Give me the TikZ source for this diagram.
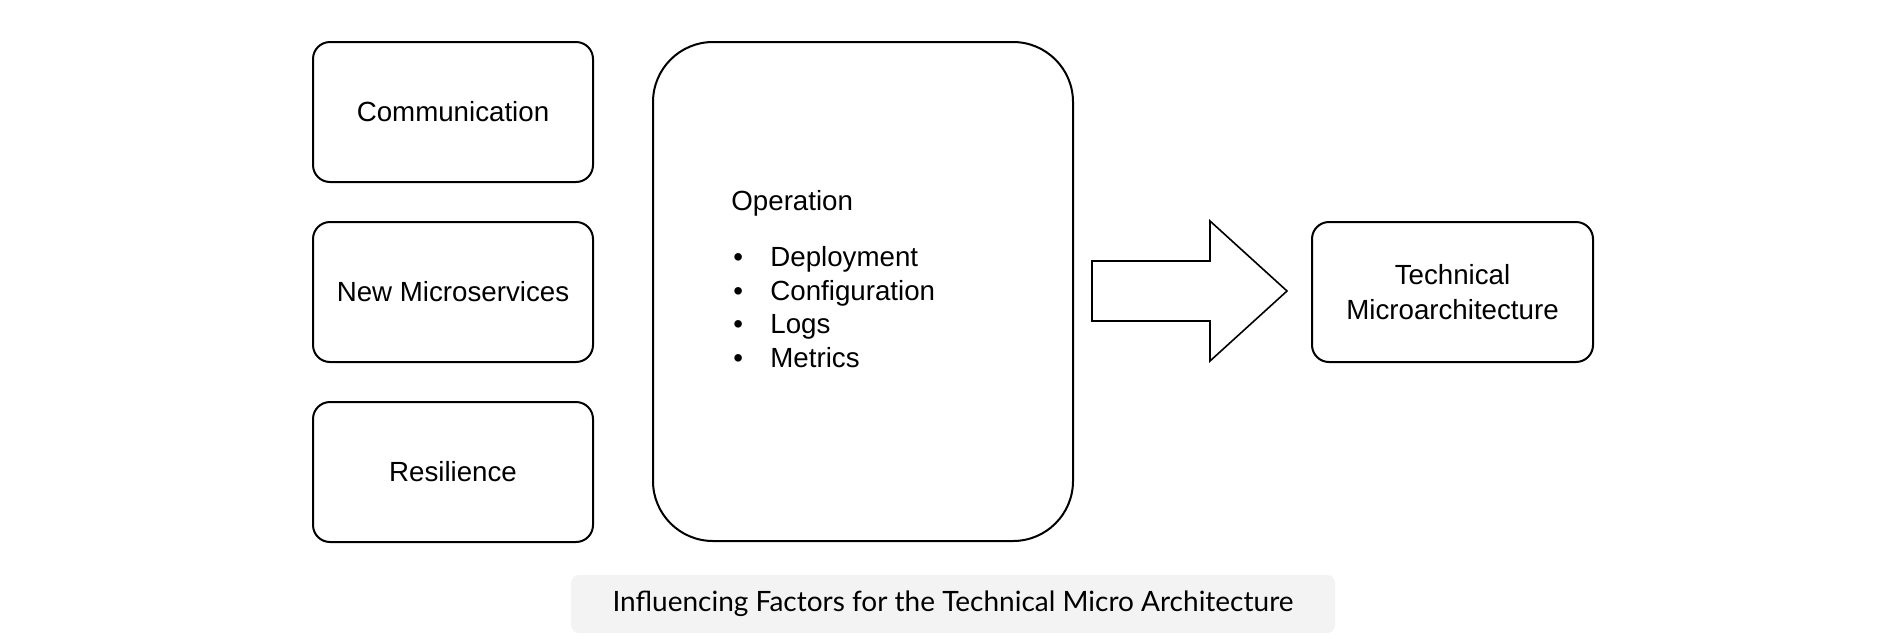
\documentclass[tikz,border=0pt]{standalone}
\usepackage{fontspec}
\setmainfont{Liberation Sans}
\newfontfamily\capfont{Lato}
\usetikzlibrary{positioning}
\definecolor{CapFill}{HTML}{F3F3F3}
\newcommand{\opitem}[1]{\makebox[19.5pt][l]{\hspace{1pt}\textbullet}#1}

\begin{document}
\begin{tikzpicture}[x=0.5pt,y=-0.5pt,
  box/.style={draw,line width=1pt,rounded corners=8.5pt,minimum width=140pt,
    minimum height=70pt,align=center,inner sep=0pt,
    font=\fontsize{13.85}{17.5}\selectfont},
  bigbox/.style={draw,line width=1pt,rounded corners=30pt,minimum width=210pt,
    minimum height=249.5pt,inner sep=0pt},
  fatarrow/.style={draw,line width=0.8pt,fill=white},
  caption/.style={fill=CapFill,rounded corners=4pt,minimum width=382pt,
    minimum height=29pt,inner sep=0pt,font=\capfont\fontsize{14}{16}\selectfont}]
  \useasboundingbox (0,0) rectangle (1888,638);

  \node[box] (comm) at (453,112) {Communication};
  \node[box,below=19pt of comm] (newms) {New Microservices};
  \node[box,below=19pt of newms] (resil) {Resilience};

  \node[bigbox] (ops) at (863,291.5) {};
  \node[anchor=base west,align=left,inner sep=0pt,
    font=\fontsize{13.85}{16.75}\selectfont] (opslist) at (731,367)
    {Operation\\[11.25pt]
     \opitem{Deployment}\\
     \opitem{Configuration}\\
     \opitem{Logs}\\
     \opitem{Metrics}};

  \draw[fatarrow] (1092,261) -- (1210,261) -- (1210,221) -- (1287,291)
    -- (1210,361) -- (1210,321) -- (1092,321) -- cycle;

  \node[box,minimum width=140.5pt] (tech) at (1452.5,292) {Technical\\Microarchitecture};

  \node[caption] (cap) at (953,604) {Influencing Factors for the Technical Micro Architecture};
\end{tikzpicture}
\end{document}
